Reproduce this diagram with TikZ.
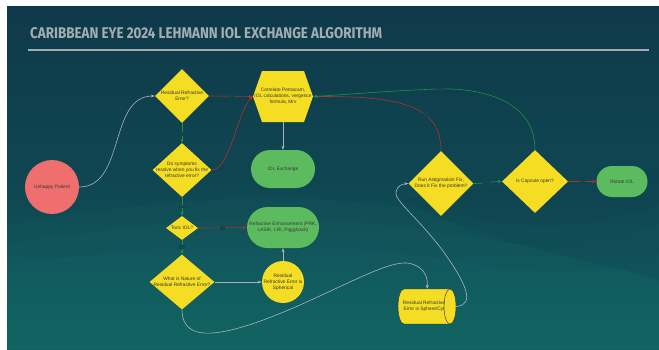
\documentclass[tikz,border=0pt]{standalone}
\usepackage{graphicx}
\usepackage{fontspec}
\setmainfont{Liberation Sans}
\newfontfamily\titlefont{Fira Sans}
\usetikzlibrary{shapes.geometric,shapes.misc,arrows.meta,calc}
\definecolor{bgtop}{HTML}{0F394A}
\definecolor{bgmid}{HTML}{0F4651}
\definecolor{bgbot}{HTML}{0E5F5E}
\definecolor{wave}{HTML}{2A8A85}
\definecolor{ylw}{HTML}{F4DD22}
\definecolor{grn}{HTML}{5DBB5F}
\definecolor{salm}{HTML}{EF6F6F}
\definecolor{txt}{HTML}{383838}
\definecolor{lred}{HTML}{B0302B}
\definecolor{lgrn}{HTML}{1F9140}
\definecolor{lgry}{HTML}{A9B5BA}
\definecolor{ttl}{HTML}{A3AEB3}
\definecolor{lbltxt}{HTML}{24505A}
\definecolor{lblbg}{HTML}{0F4350}
\begin{document}
\begin{tikzpicture}[x=1pt,y=-1pt,
  lbl/.style={font=\fontsize{4.85}{6}\selectfont, text=txt, align=center, inner sep=0pt},
  dia/.style={diamond, fill=ylw, inner sep=0pt},
  stad/.style={rounded rectangle, fill=grn, inner sep=0pt},
  conn/.style={line width=0.6pt, -{Stealth[length=4pt,width=3pt]}},
  gryc/.style={conn, draw=lgry},
  redc/.style={conn, draw=lred},
  grnc/.style={conn, draw=lgrn},
  yn/.style={font=\fontsize{3}{3.5}\selectfont, text=lbltxt, fill=lblbg, inner sep=0.8pt}
]
\useasboundingbox (0,0) rectangle (659,349);
\fill[white] (0,0) rectangle (659,349);
\shade[top color=bgtop, bottom color=bgbot, middle color=bgmid] (7,6) rectangle (659,349);
\begin{scope}
\clip (7,6) rectangle (659,349);
\fill[wave, opacity=0.05] (7,225) .. controls (150,200) and (300,185) .. (450,215) .. controls (550,235) and (620,220) .. (659,205) -- (659,349) -- (7,349) -- cycle;
\fill[wave, opacity=0.05] (7,245) .. controls (150,220) and (300,205) .. (450,235) .. controls (550,255) and (620,240) .. (659,225) -- (659,349) -- (7,349) -- cycle;
\fill[wave, opacity=0.05] (7,265) .. controls (150,245) and (300,235) .. (450,260) .. controls (550,280) and (620,270) .. (659,255) -- (659,349) -- (7,349) -- cycle;
\fill[color=bgtop, opacity=0.2] (400,200) .. controls (480,180) and (580,190) .. (659,170) -- (659,280) .. controls (600,260) and (500,250) .. (400,200) -- cycle;
\end{scope}

% title
\node[anchor=south west, inner sep=0pt, text=ttl] (title) at (30,38.7)
  {\resizebox{352pt}{11pt}{\titlefont\bfseries CARIBBEAN EYE 2024 LEHMANN IOL EXCHANGE ALGORITHM}};
\draw[ttl, line width=1.3pt] (28,50) -- (649,50);

% nodes
\node[circle, fill=salm, minimum size=54pt, inner sep=0pt,
  label={[lbl]center:Unhappy Patient}] (up) at (52,187) {};
\node[dia, minimum width=54pt, minimum height=54pt,
  label={[lbl]center:{Residual Refractive\\Error?}}] (d1) at (182,96) {};
\coordinate (hexc) at (283,96.5);
\fill[ylw] ($(hexc)+(-30,0)$) -- ($(hexc)+(-21,-25.5)$) -- ($(hexc)+(21,-25.5)$) -- ($(hexc)+(30,0)$)
  -- ($(hexc)+(21,25.5)$) -- ($(hexc)+(-21,25.5)$) -- cycle;
\node[rectangle, minimum width=60pt, minimum height=51pt, inner sep=0pt,
  label={[lbl]center:{Correlate Pentacam,\\IOL calculations, vergence\\formula, Mrx}}] (hex) at (hexc) {};
\node[dia, minimum width=59pt, minimum height=54pt,
  label={[lbl]center:{Do symptoms\\resolve when you fix the\\refractive error?}}] (d2) at (182,170) {};
\node[stad, minimum width=64pt, minimum height=38pt,
  label={[lbl]center:IOL Exchange}] (iol) at (283,169) {};
\node[dia, minimum width=32pt, minimum height=24pt,
  label={[lbl]center:Toric IOL?}] (toric) at (182,228) {};
\node[stad, minimum width=72pt, minimum height=41pt,
  label={[lbl]center:{Refractive Enhancement (PRK,\\LASIK, LRI, Piggyback)}}] (refenh) at (283,227.5) {};
\node[dia, minimum width=65pt, minimum height=55pt,
  label={[lbl]center:{What is Nature of\\Residual Refractive Error?}}] (d3) at (182,282) {};
\node[circle, fill=ylw, minimum size=42pt, inner sep=0pt,
  label={[lbl]center:{Residual\\Refractive Error is\\Spherical}}] (sph) at (283,282) {};
\node[dia, minimum width=65pt, minimum height=65pt,
  label={[lbl]center:{Run Astigmatism Fix,\\Does it Fix the problem?}}] (runastig) at (441,183.5) {};
\node[dia, minimum width=66pt, minimum height=63pt,
  label={[lbl]center:Is Capsule open?}] (capsule) at (535,181.5) {};
\node[stad, minimum width=51pt, minimum height=31pt,
  label={[lbl]center:Rotate IOL}] (rotate) at (622,181.5) {};

% cylinder (horizontal, end face on the right)
\coordinate (cylc) at (427,306.5);
\fill[ylw] ($(cylc)+(-23,-17.5)$) rectangle ($(cylc)+(23,17.5)$);
\fill[ylw] ($(cylc)+(-23,0)$) ellipse[x radius=6, y radius=17.5];
\fill[ylw] ($(cylc)+(23,0)$) ellipse[x radius=6, y radius=17.5];
\draw[txt, line width=0.45pt] ($(cylc)+(23,-17.5)$) -- ($(cylc)+(-23,-17.5)$)
  arc[start angle=-90, end angle=-270, x radius=6, y radius=17.5]
  -- ($(cylc)+(23,17.5)$);
\draw[txt, line width=0.45pt] ($(cylc)+(23,0)$) ellipse[x radius=6, y radius=17.5];
\node[rectangle, minimum width=58pt, minimum height=35pt, inner sep=0pt,
  label={[lbl, xshift=-3pt]center:{Residual Refractive\\Error is Sphere/Cyl}}] (cyl) at (cylc) {};

% connectors
\draw[gryc] (up.east) to[out=0,in=180] (d1.west);
\draw[redc] (d1.east) -- node[yn]{No} (hex.west);
\draw[grnc] (d1.south) -- node[yn, pos=0.55]{Yes} (d2.north);
\draw[redc] (d2.east) .. controls (230,170) and (238,110) .. (hex.west);
\draw[gryc] (hex.south) -- (iol.north);
\draw[grnc] (d2.south) -- node[yn]{Yes} (toric.north);
\draw[redc] (toric.east) -- node[yn]{No} (refenh.west);
\draw[grnc] (toric.south) -- node[yn]{Yes} (d3.north);
\draw[gryc] (d3.east) -- (sph.west);
\draw[gryc] (sph.north) -- (refenh.south);
\draw[gryc] (d3.south) .. controls (182,345) and (225,338) .. (300,305)
  .. controls (360,278) and (395,258) .. (412,264)
  .. controls (425,268) and (428,278) .. (cyl.north);
\draw[gryc] (cyl.east) .. controls (475,305) and (468,285) .. (440,247)
  .. controls (415,215) and (394,200) .. (396,192)
  .. controls (397,186) and (402,184) .. (runastig.west);
\draw[grnc] (runastig.east) to[out=0,in=180] node[yn, pos=0.45]{Yes} (capsule.west);
\draw[redc] (runastig.north) .. controls (441,105) and (400,96) .. (hex.east) node[yn, pos=0.35]{No};
\draw[grnc] (capsule.north) .. controls (535,95) and (470,88) .. (440,89) node[yn]{Yes}
  .. controls (400,90) and (340,95) .. (hex.east);
\draw[redc] (capsule.east) -- node[yn]{No} (rotate.west);
\end{tikzpicture}
\end{document}
